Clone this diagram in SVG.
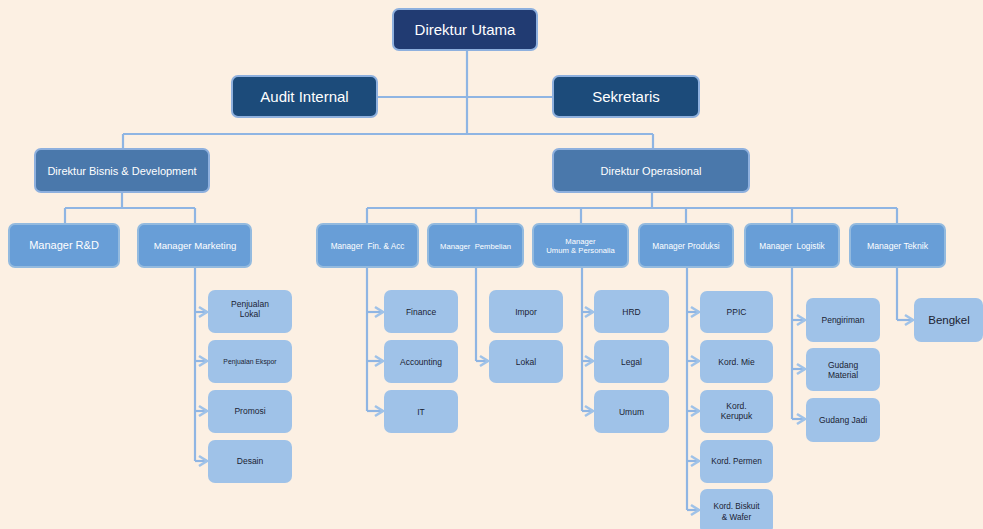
<svg xmlns="http://www.w3.org/2000/svg" width="983" height="529" viewBox="0 0 983 529">
<defs>
<style>
.bg{fill:#fcf0e3}
.c{fill:none;stroke:#8fb5e3;stroke-width:2.2}
.a{fill:none;stroke:#8fb5e3;stroke-width:2.2;marker-end:url(#chev)}
.top{fill:#213b72;stroke:#8eb0de;stroke-width:2}
.l2{fill:#1c4b7a;stroke:#8eb0de;stroke-width:2}
.dir{fill:#4a78ab;stroke:#8eb0de;stroke-width:2}
.mgr{fill:#689ed7;stroke:#93badf;stroke-width:2}
.sub{fill:#9fc2e8}
text{font-family:"Liberation Sans",Arial,sans-serif;text-anchor:middle}
.tw{fill:#ffffff}
.td{fill:#1b2233}
</style>
<marker id="chev" markerUnits="userSpaceOnUse" markerWidth="12" markerHeight="14" refX="9" refY="6" orient="auto" viewBox="0 0 12 12">
<path d="M1,1 L9,6 L1,11" fill="none" stroke="#9fc2e8" stroke-width="2.6"/>
</marker>
</defs>
<rect class="bg" x="0" y="0" width="983" height="529"/>
<g id="connectors">
<path class="c" d="M467,50 V134 M377,97 H553 M123,134 H653 M123,134 V149 M653,134 V149"/>
<path class="c" d="M122,192 V208 M65,208 H195 M65,208 V224 M195,208 V224"/>
<path class="c" d="M652,192 V208 M367,208 H897 M367,208 V224 M476,208 V224 M581,208 V224 M686,208 V224 M792,208 V224 M897,208 V224"/>
<path class="c" d="M195,267 V461"/>
<path class="a" d="M195,312 H207"/><path class="a" d="M195,361 H207"/><path class="a" d="M195,411 H207"/><path class="a" d="M195,461 H207"/>
<path class="c" d="M367,267 V411"/>
<path class="a" d="M367,312 H383"/><path class="a" d="M367,361 H383"/><path class="a" d="M367,411 H383"/>
<path class="c" d="M476,267 V361"/>
<path class="a" d="M476,361 H488"/>
<path class="c" d="M582,267 V411"/>
<path class="a" d="M582,312 H593"/><path class="a" d="M582,361 H593"/><path class="a" d="M582,411 H593"/>
<path class="c" d="M687,267 V510"/>
<path class="a" d="M687,312 H699"/><path class="a" d="M687,361 H699"/><path class="a" d="M687,411 H699"/><path class="a" d="M687,461 H699"/><path class="a" d="M687,510 H699"/>
<path class="c" d="M792,267 V419"/>
<path class="a" d="M792,320 H805"/><path class="a" d="M792,369 H805"/><path class="a" d="M792,419 H805"/>
<path class="c" d="M897,267 V320"/>
<path class="a" d="M897,320 H913"/>
</g>
<g id="direktur-utama"><rect class="top" x="393" y="9" width="144" height="41" rx="6"/><text class="tw" x="465" y="35" font-size="15">Direktur Utama</text></g>
<g id="audit-internal"><rect class="l2" x="232" y="76" width="145" height="41" rx="6"/><text class="tw" x="304.5" y="102" font-size="15">Audit Internal</text></g>
<g id="sekretaris"><rect class="l2" x="553" y="76" width="146" height="41" rx="6"/><text class="tw" x="626" y="102" font-size="15">Sekretaris</text></g>
<g id="direktur-bisnis"><rect class="dir" x="35" y="149" width="174" height="43" rx="6"/><text class="tw" x="122" y="175" font-size="11">Direktur Bisnis &amp; Development</text></g>
<g id="direktur-operasional"><rect class="dir" x="553" y="149" width="196" height="43" rx="6"/><text class="tw" x="651" y="175" font-size="11">Direktur Operasional</text></g>
<g id="manager-rd"><rect class="mgr" x="9" y="224" width="110" height="43" rx="6"/><text class="tw" x="64" y="249" font-size="11">Manager R&amp;D</text></g>
<g id="manager-marketing"><rect class="mgr" x="138" y="224" width="113" height="43" rx="6"/><text class="tw" x="195" y="249" font-size="9.6">Manager Marketing</text></g>
<g id="manager-fin"><rect class="mgr" x="317" y="224" width="101" height="43" rx="6"/><text class="tw" x="367.5" y="248.5" font-size="8.2" xml:space="preserve">Manager  Fin. &amp; Acc</text></g>
<g id="manager-pembelian"><rect class="mgr" x="428" y="224" width="95" height="43" rx="6"/><text class="tw" x="475.5" y="248.5" font-size="7.7" xml:space="preserve">Manager  Pembelian</text></g>
<g id="manager-umum"><rect class="mgr" x="533" y="224" width="95" height="43" rx="6"/><text class="tw" x="580.5" y="243.5" font-size="7.7">Manager</text><text class="tw" x="580.5" y="253" font-size="7.7">Umum &amp; Personalia</text></g>
<g id="manager-produksi"><rect class="mgr" x="639" y="224" width="94" height="43" rx="6"/><text class="tw" x="686" y="248.5" font-size="8.3">Manager Produksi</text></g>
<g id="manager-logistik"><rect class="mgr" x="745" y="224" width="94" height="43" rx="6"/><text class="tw" x="792" y="248.5" font-size="8.3" xml:space="preserve">Manager  Logistik</text></g>
<g id="manager-teknik"><rect class="mgr" x="850" y="224" width="95" height="43" rx="6"/><text class="tw" x="897.5" y="248.5" font-size="8.7">Manager Teknik</text></g>
<g id="penjualan-lokal"><rect class="sub" x="208" y="290" width="84" height="43" rx="7"/><text class="td" x="250" y="307" font-size="8.5">Penjualan</text><text class="td" x="250" y="316.5" font-size="8.5">Lokal</text></g>
<g id="penjualan-ekspor"><rect class="sub" x="208" y="340" width="84" height="43" rx="7"/><text class="td" x="250" y="364" font-size="6.8">Penjualan Ekspor</text></g>
<g id="promosi"><rect class="sub" x="208" y="390" width="84" height="43" rx="7"/><text class="td" x="250" y="414" font-size="8.5">Promosi</text></g>
<g id="desain"><rect class="sub" x="208" y="440" width="84" height="43" rx="7"/><text class="td" x="250" y="464" font-size="8.5">Desain</text></g>
<g id="finance"><rect class="sub" x="384" y="290" width="74" height="43" rx="7"/><text class="td" x="421" y="315" font-size="8.5">Finance</text></g>
<g id="accounting"><rect class="sub" x="384" y="340" width="74" height="43" rx="7"/><text class="td" x="421" y="365" font-size="8.5">Accounting</text></g>
<g id="it"><rect class="sub" x="384" y="390" width="74" height="43" rx="7"/><text class="td" x="421" y="415" font-size="8.5">IT</text></g>
<g id="impor"><rect class="sub" x="489" y="290" width="74" height="43" rx="7"/><text class="td" x="526" y="315" font-size="8.5">Impor</text></g>
<g id="lokal"><rect class="sub" x="489" y="340" width="74" height="43" rx="7"/><text class="td" x="526" y="365" font-size="8.5">Lokal</text></g>
<g id="hrd"><rect class="sub" x="594" y="290" width="75" height="43" rx="7"/><text class="td" x="631.5" y="315" font-size="8.5">HRD</text></g>
<g id="legal"><rect class="sub" x="594" y="340" width="75" height="43" rx="7"/><text class="td" x="631.5" y="365" font-size="8.5">Legal</text></g>
<g id="umum"><rect class="sub" x="594" y="390" width="75" height="43" rx="7"/><text class="td" x="631.5" y="415" font-size="8.5">Umum</text></g>
<g id="ppic"><rect class="sub" x="700" y="291" width="73" height="42" rx="7"/><text class="td" x="736.5" y="315" font-size="8.5">PPIC</text></g>
<g id="kord-mie"><rect class="sub" x="700" y="340" width="73" height="43" rx="7"/><text class="td" x="736.5" y="365" font-size="8.5">Kord. Mie</text></g>
<g id="kord-kerupuk"><rect class="sub" x="700" y="390" width="73" height="43" rx="7"/><text class="td" x="736.5" y="409" font-size="8.5">Kord.</text><text class="td" x="736.5" y="419" font-size="8.5">Kerupuk</text></g>
<g id="kord-permen"><rect class="sub" x="700" y="440" width="73" height="43" rx="7"/><text class="td" x="736.5" y="464" font-size="8.2">Kord. Permen</text></g>
<g id="kord-biskuit"><rect class="sub" x="700" y="489" width="73" height="45" rx="7"/><text class="td" x="736.5" y="509" font-size="8.2">Kord. Biskuit</text><text class="td" x="736.5" y="519.5" font-size="8.2">&amp; Wafer</text></g>
<g id="pengiriman"><rect class="sub" x="806" y="298" width="74" height="44" rx="7"/><text class="td" x="843" y="323" font-size="8.5">Pengiriman</text></g>
<g id="gudang-material"><rect class="sub" x="806" y="348" width="74" height="43" rx="7"/><text class="td" x="843" y="367.5" font-size="8.5">Gudang</text><text class="td" x="843" y="377.5" font-size="8.5">Material</text></g>
<g id="gudang-jadi"><rect class="sub" x="806" y="398" width="74" height="44" rx="7"/><text class="td" x="843" y="423" font-size="8.5">Gudang Jadi</text></g>
<g id="bengkel"><rect class="sub" x="914" y="298" width="69" height="44" rx="7"/><text class="td" x="949" y="324" font-size="11.5">Bengkel</text></g>
</svg>
